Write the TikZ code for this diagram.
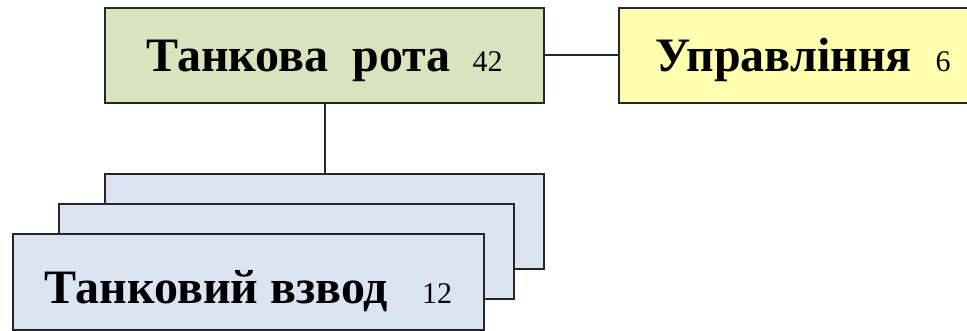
\documentclass[tikz,border=0pt]{standalone}
\usepackage{fontspec}
\setmainfont{Liberation Serif}
\definecolor{boxgreen}{HTML}{D7E4BD}
\definecolor{boxyellow}{HTML}{FFFFAF}
\definecolor{boxblue}{HTML}{DBE5F1}
\tikzset{
  unit/.style={draw=black!85, line width=1.9pt, inner sep=0pt, outer sep=0pt},
  link/.style={draw=black!85, line width=2pt},
}
\newcommand{\bigname}[1]{{\fontsize{48}{54}\selectfont\bfseries #1}}
\newcommand{\smallnum}[1]{{\fontsize{30}{34}\selectfont #1}}
\begin{document}
\begin{tikzpicture}[x=1pt,y=-1pt]
\useasboundingbox (0,0) rectangle (967,331);
\clip (0,0) rectangle (967,331);
\node[unit, fill=boxgreen, minimum width=439pt, minimum height=95pt,
      text height=33pt, text depth=0pt] (rota) at (324.5,55.5)
  {\bigname{Танкова\hspace{24pt}рота}\hspace{22pt}\smallnum{42}};
\node[unit, fill=boxyellow, minimum width=368pt, minimum height=95pt,
      text height=33pt, text depth=0pt] (upr) at (803,55.5)
  {\bigname{Управління}\hspace{24pt}\smallnum{6}};
\node[unit, fill=boxblue, minimum width=439pt, minimum height=95pt] (vz3) at (324.5,221.5) {};
\node[unit, fill=boxblue, minimum width=455pt, minimum height=95pt] (vz2) at (286.5,251.5) {};
\node[unit, fill=boxblue, minimum width=471pt, minimum height=96pt,
      text height=44pt, text depth=0pt] (vz1) at (248.5,282)
  {\bigname{Танковий взвод}\hspace{34pt}\smallnum{12}\hspace{4pt}};
\draw[link] (rota.south) -- (vz3.north);
\draw[link] (rota.east) -- (upr.west);
\end{tikzpicture}
\end{document}
